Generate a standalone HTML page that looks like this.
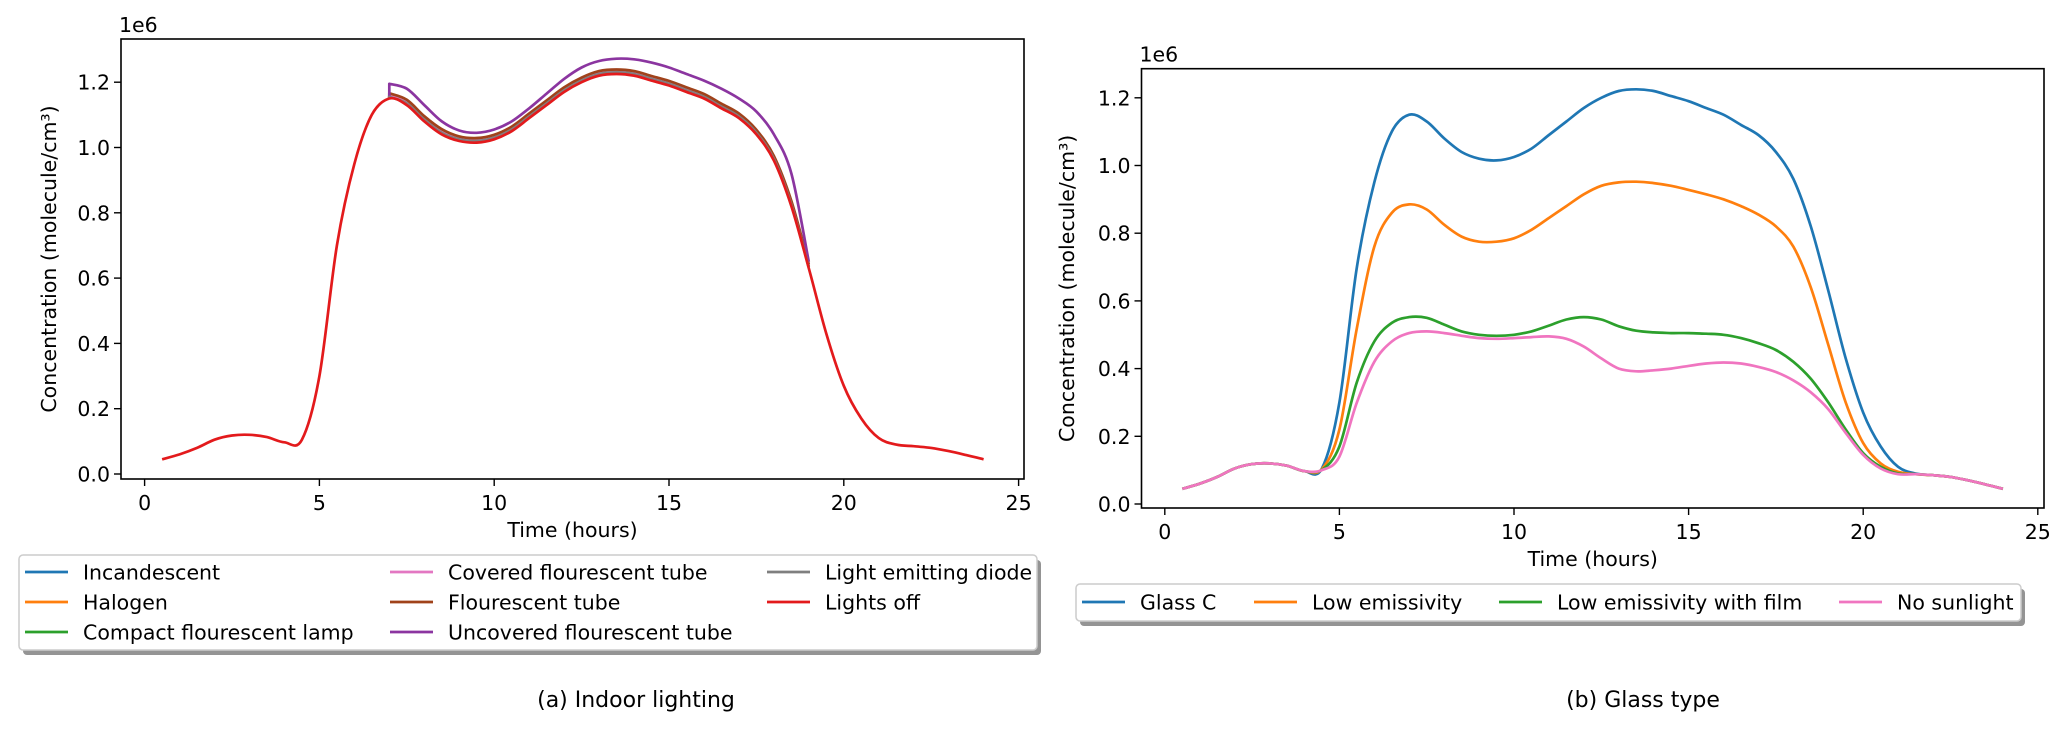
<!DOCTYPE html>
<html><head><meta charset="utf-8"><style>
html,body{margin:0;padding:0;background:#fff;}
svg{display:block;font-family:"DejaVu Sans","Liberation Sans",sans-serif;}
</style></head><body>
<svg id="fig" width="2067" height="730" viewBox="0 0 2067 730" xmlns="http://www.w3.org/2000/svg"></svg>
<script>
// ---------- data ----------
const hours = [0.5,1,1.5,2,2.5,3,3.5,4,4.5,5,5.5,6,6.5,7,7.5,8,8.5,9,9.5,10,10.5,11,11.5,12,12.5,13,13.5,14,14.5,15,15.5,16,16.5,17,17.5,18,18.5,19,19.5,20,20.5,21,21.5,22,22.5,23,23.5,24];
const lightsOff = [0.045,0.06,0.08,0.105,0.118,0.12,0.113,0.097,0.105,0.3,0.7,0.95,1.1,1.15,1.13,1.08,1.04,1.02,1.015,1.025,1.05,1.09,1.13,1.17,1.2,1.22,1.225,1.22,1.205,1.19,1.17,1.15,1.12,1.09,1.04,0.96,0.82,0.63,0.43,0.27,0.17,0.11,0.09,0.085,0.08,0.07,0.058,0.045];
const litHours = [7,7.5,8,8.5,9,9.5,10,10.5,11,11.5,12,12.5,13,13.5,14,14.5,15,15.5,16,16.5,17,17.5,18,18.5,19];
const incandescent = [1.158,1.138,1.088,1.048,1.028,1.023,1.033,1.058,1.098,1.138,1.178,1.208,1.228,1.233,1.228,1.213,1.198,1.178,1.158,1.128,1.098,1.048,0.968,0.828,0.636];
const halogen = [1.157,1.137,1.087,1.047,1.027,1.022,1.032,1.057,1.097,1.137,1.177,1.207,1.227,1.232,1.227,1.212,1.197,1.177,1.157,1.127,1.097,1.047,0.967,0.827,0.635];
const compactLamp = [1.156,1.136,1.086,1.046,1.026,1.021,1.031,1.056,1.096,1.136,1.176,1.206,1.226,1.231,1.226,1.211,1.196,1.176,1.156,1.126,1.096,1.046,0.966,0.826,0.634];
const coveredTube = [1.162,1.142,1.092,1.052,1.032,1.027,1.037,1.062,1.102,1.142,1.182,1.212,1.232,1.237,1.232,1.217,1.202,1.182,1.162,1.132,1.102,1.052,0.972,0.832,0.64];
const fluorTube = [1.166,1.146,1.096,1.056,1.034,1.029,1.039,1.064,1.104,1.144,1.184,1.214,1.234,1.239,1.234,1.219,1.204,1.184,1.164,1.134,1.104,1.054,0.974,0.836,0.642];
const uncoveredTube = [1.195,1.18,1.13,1.08,1.052,1.045,1.055,1.08,1.12,1.165,1.21,1.245,1.265,1.272,1.27,1.26,1.245,1.225,1.205,1.18,1.15,1.11,1.04,0.92,0.65];
const ledLight = [1.155,1.135,1.085,1.045,1.025,1.02,1.03,1.055,1.095,1.135,1.175,1.205,1.225,1.23,1.225,1.21,1.195,1.175,1.155,1.125,1.095,1.045,0.965,0.825,0.633];
const glassC = [0.045,0.06,0.08,0.105,0.118,0.12,0.113,0.097,0.105,0.3,0.7,0.95,1.1,1.15,1.13,1.08,1.04,1.02,1.015,1.025,1.05,1.09,1.13,1.17,1.2,1.22,1.225,1.22,1.205,1.19,1.17,1.15,1.12,1.09,1.04,0.96,0.82,0.63,0.43,0.27,0.17,0.11,0.09,0.085,0.08,0.07,0.058,0.045];
const lowE = [0.045,0.06,0.08,0.105,0.118,0.12,0.113,0.097,0.103,0.22,0.52,0.76,0.86,0.885,0.87,0.825,0.79,0.775,0.775,0.785,0.81,0.845,0.88,0.915,0.94,0.95,0.952,0.948,0.94,0.928,0.915,0.9,0.88,0.855,0.82,0.76,0.64,0.47,0.3,0.18,0.12,0.095,0.088,0.085,0.08,0.07,0.058,0.045];
const lowEFilm = [0.045,0.06,0.08,0.105,0.118,0.12,0.113,0.097,0.101,0.17,0.36,0.48,0.535,0.552,0.55,0.53,0.51,0.5,0.497,0.5,0.51,0.527,0.545,0.552,0.545,0.525,0.512,0.507,0.505,0.505,0.503,0.5,0.49,0.475,0.455,0.42,0.37,0.3,0.22,0.15,0.11,0.09,0.088,0.085,0.08,0.07,0.058,0.045];
const noSun = [0.045,0.06,0.08,0.105,0.118,0.12,0.113,0.097,0.1,0.14,0.3,0.42,0.48,0.505,0.51,0.505,0.497,0.49,0.488,0.49,0.493,0.495,0.488,0.465,0.43,0.4,0.392,0.395,0.4,0.408,0.415,0.418,0.415,0.405,0.39,0.365,0.33,0.28,0.21,0.145,0.105,0.088,0.088,0.085,0.08,0.07,0.058,0.045];
const xTicks = [0,5,10,15,20,25];
const yTicks = [0.0,0.2,0.4,0.6,0.8,1.0,1.2];

const FS=20.5;
const NS="http://www.w3.org/2000/svg";
const svg=document.getElementById('fig');
function el(tag,attrs,parent){const e=document.createElementNS(NS,tag);for(const k in attrs)e.setAttribute(k,attrs[k]);(parent||svg).appendChild(e);return e;}
function smooth(pts){
  let d='M'+pts[0][0].toFixed(1)+','+pts[0][1].toFixed(1);
  for(let i=0;i<pts.length-1;i++){
    const p0=pts[Math.max(0,i-1)],p1=pts[i],p2=pts[i+1],p3=pts[Math.min(pts.length-1,i+2)];
    const c1=[p1[0]+(p2[0]-p0[0])/6,p1[1]+(p2[1]-p0[1])/6];
    const c2=[p2[0]-(p3[0]-p1[0])/6,p2[1]-(p3[1]-p1[1])/6];
    d+=' C'+c1[0].toFixed(1)+','+c1[1].toFixed(1)+' '+c2[0].toFixed(1)+','+c2[1].toFixed(1)+' '+p2[0].toFixed(1)+','+p2[1].toFixed(1);
  }
  return d;
}
function axes(cfg){
  const g=el('g',{});
  
  
  const X=t=>cfg.x0+t*cfg.xs, Y=v=>cfg.y0-v*cfg.ys;
  cfg.series.forEach(s=>{
    const pts=s.x.map((t,i)=>[X(t),Y(s.y[i])]);
    let d=smooth(pts);
    if(s.jumpFrom!==undefined){d='M'+X(s.x[0]).toFixed(1)+','+Y(s.jumpFrom).toFixed(1)+' L'+d.slice(1);}
    const p=el('path',{d:d,fill:'none',stroke:s.color,'stroke-width':2.7,'stroke-linejoin':'round'},g);
    
    
  });
  const fr=el('rect',{x:cfg.L,y:cfg.T,width:cfg.R-cfg.L,height:cfg.B-cfg.T,fill:'none',stroke:'#000','stroke-width':1.6},g);
  
  
  xTicks.forEach(t=>{
    el('line',{x1:X(t),x2:X(t),y1:cfg.B,y2:cfg.B+7,stroke:'#000','stroke-width':1.4},g);
    const tx=el('text',{x:X(t),y:cfg.B+31,'font-size':FS,'text-anchor':'middle'},g);
    tx.textContent=String(t);
    
    
  });
  yTicks.forEach(v=>{
    el('line',{x1:cfg.L-7,x2:cfg.L,y1:Y(v),y2:Y(v),stroke:'#000','stroke-width':1.4},g);
    const tx=el('text',{x:cfg.L-11,y:Y(v)+7.5,'font-size':FS,'text-anchor':'end'},g);
    tx.textContent=v.toFixed(1);
    
    
  });
  const e6=el('text',{x:cfg.L-2,y:cfg.T-7,'font-size':FS},g);
  e6.textContent='1e6';
  
  
  const xl=el('text',{x:(cfg.L+cfg.R)/2,y:cfg.B+58,'font-size':FS,'text-anchor':'middle'},g);
  xl.textContent='Time (hours)';
  
  
  const yc=(cfg.T+cfg.B)/2;
  const yl=el('text',{x:cfg.ylx,y:yc,'font-size':FS,'text-anchor':'middle',transform:'rotate(-90 '+cfg.ylx+' '+yc+')'},g);
  yl.textContent='Concentration (molecule/cm³)';
  
  
}
function legend(name,box,entries){
  const g=el('g',{});
  
  
  el('rect',{x:box.x+4,y:box.y+5,width:box.w,height:box.h,rx:4,fill:'#888',opacity:0.9},g);
  el('rect',{x:box.x,y:box.y,width:box.w,height:box.h,rx:4,fill:'#fff',stroke:'#ccc','stroke-width':1.5},g);
  entries.forEach(e=>{
    const it=el('g',{},g);
    
    
    el('line',{x1:e.x,x2:e.x+43,y1:e.y,y2:e.y,stroke:e.color,'stroke-width':2.8},it);
    const t=el('text',{x:e.x+58,y:e.y+7.5,'font-size':FS},it);
    t.textContent=e.label;
  });
}
const C=['#1f77b4','#ff7f0e','#2ca02c','#e377c2','#8c3f1a','#8b35a0','#7f7f7f','#e31a1c'];
axes({name:'chart-indoor-lighting',L:121,R:1024,T:39,B:479,x0:144.6,xs:34.96,y0:474,ys:326.5,ylx:56,
 series:[
  {key:'incandescent',x:litHours,y:incandescent,color:C[0],jumpFrom:lightsOff[13]},
  {key:'halogen',x:litHours,y:halogen,color:C[1],jumpFrom:lightsOff[13]},
  {key:'compact-flourescent-lamp',x:litHours,y:compactLamp,color:C[2],jumpFrom:lightsOff[13]},
  {key:'covered-flourescent-tube',x:litHours,y:coveredTube,color:C[3],jumpFrom:lightsOff[13]},
  {key:'flourescent-tube',x:litHours,y:fluorTube,color:'#a0421a',jumpFrom:lightsOff[13]},
  {key:'uncovered-flourescent-tube',x:litHours,y:uncoveredTube,color:C[5],jumpFrom:lightsOff[13]},
  {key:'light-emitting-diode',x:litHours,y:ledLight,color:C[6],jumpFrom:lightsOff[13]},
  {key:'lights-off',x:hours,y:lightsOff,color:'#e31a1c'}
 ]});
legend('legend-indoor-lighting',{x:19,y:555,w:1018,h:95},[
 {x:25,y:572,color:C[0],label:'Incandescent'},
 {x:25,y:602,color:C[1],label:'Halogen'},
 {x:25,y:632,color:C[2],label:'Compact flourescent lamp'},
 {x:390,y:572,color:C[3],label:'Covered flourescent tube'},
 {x:390,y:602,color:'#a0421a',label:'Flourescent tube'},
 {x:390,y:632,color:C[5],label:'Uncovered flourescent tube'},
 {x:767,y:572,color:C[6],label:'Light emitting diode'},
 {x:767,y:602,color:'#e31a1c',label:'Lights off'}
]);
axes({name:'chart-glass-type',L:1141.5,R:2044,T:68.7,B:508,x0:1164.8,xs:34.92,y0:504,ys:338.5,ylx:1074,
 series:[
  {key:'glass-c',x:hours,y:glassC,color:C[0]},
  {key:'low-emissivity',x:hours,y:lowE,color:C[1]},
  {key:'low-emissivity-with-film',x:hours,y:lowEFilm,color:C[2]},
  {key:'no-sunlight',x:hours,y:noSun,color:'#f075c0'}
 ]});
legend('legend-glass-type',{x:1076,y:584,w:945,h:37},[
 {x:1082,y:602,color:C[0],label:'Glass C'},
 {x:1254,y:602,color:C[1],label:'Low emissivity'},
 {x:1499,y:602,color:C[2],label:'Low emissivity with film'},
 {x:1839,y:602,color:'#f075c0',label:'No sunlight'}
]);
const ca=el('text',{x:636,y:707,'font-size':22,'text-anchor':'middle'});
ca.textContent='(a) Indoor lighting';


const cb=el('text',{x:1643,y:707,'font-size':22,'text-anchor':'middle'});
cb.textContent='(b) Glass type';


</script>
</body></html>
